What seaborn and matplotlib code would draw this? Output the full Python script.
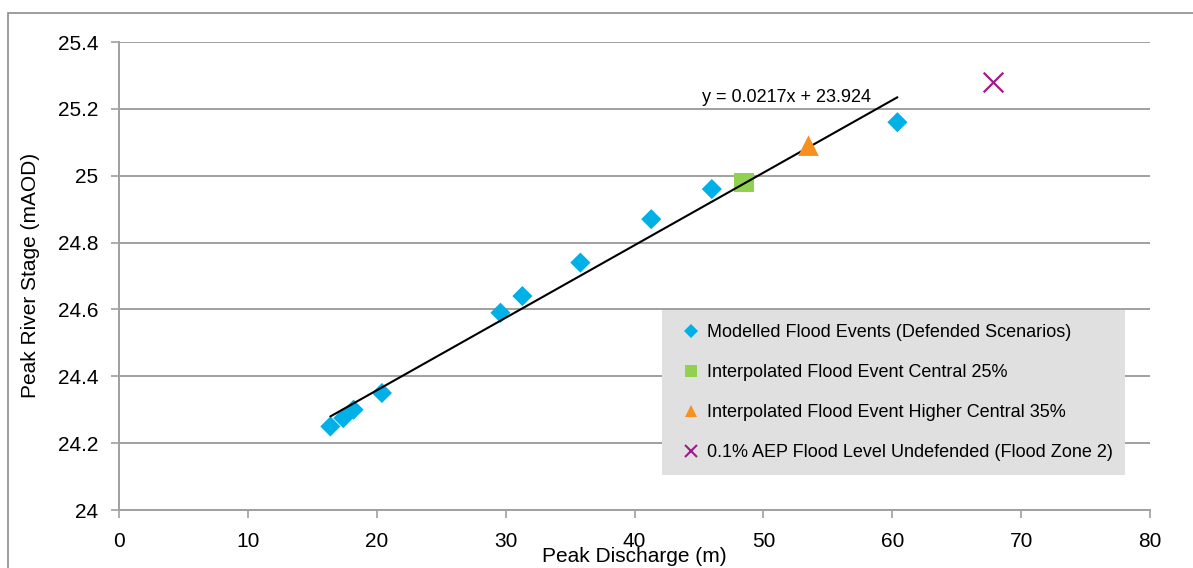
import matplotlib
matplotlib.use("Agg")
import matplotlib.pyplot as plt
from matplotlib.lines import Line2D
from matplotlib.patches import Rectangle
import seaborn as sns
import pandas as pd
import numpy as np

# Modelled flood events (defended scenarios)
modelled_q = [16.4, 17.4, 18.2, 20.4, 29.6, 31.3, 35.8, 41.3, 46.0, 60.4]
modelled_h = [24.25, 24.275, 24.30, 24.35, 24.59, 24.64, 24.74, 24.87, 24.96, 25.16]

# Interpolated events and undefended flood level
central25_q, central25_h = [48.5], [24.98]
higher35_q, higher35_h = [53.5], [25.09]
undefended_q, undefended_h = [67.8], [25.28]

# Linear trend fitted to the modelled events
trend_slope, trend_intercept = 0.0217, 23.924

x_ticks = [0, 10, 20, 30, 40, 50, 60, 70, 80]
y_ticks = [24.0, 24.2, 24.4, 24.6, 24.8, 25.0, 25.2, 25.4]
y_tick_labels = ["24", "24.2", "24.4", "24.6", "24.8", "25", "25.2", "25.4"]

labels = [
    "Modelled Flood Events (Defended Scenarios)",
    "Interpolated Flood Event Central 25%",
    "Interpolated Flood Event Higher Central 35%",
    "0.1% AEP Flood Level Undefended (Flood Zone 2)",
]

sns.set_theme(style="white")
plt.rcParams["font.family"] = ["Liberation Sans", "DejaVu Sans"]

C_BLUE = "#00B0E6"
C_GREEN = "#92D050"
C_ORANGE = "#F7901E"
C_PURPLE = "#A0198C"
GRID = "#A0A0A0"

W, H = 1193, 568
fig = plt.figure(figsize=(W / 100, H / 100), dpi=100)
ax = fig.add_axes([119 / W, 1 - 510 / H, 1031 / W, 468 / H])

# chart-area border
fig.patches.append(Rectangle((8 / W, -0.1), 1.2, 1.1 - 13 / H,
                             transform=fig.transFigure, fill=False,
                             edgecolor="#8C8C8C", linewidth=1.2, zorder=0))

ax.set_xlim(0, 80)
ax.set_ylim(24.0, 25.4)
ax.set_yticks(y_ticks)
ax.set_yticklabels(y_tick_labels)
ax.set_xticks(x_ticks)
ax.grid(axis="y", color=GRID, linewidth=1.4)
ax.set_axisbelow(True)
for side in ["top", "right"]:
    ax.spines[side].set_visible(False)
for side in ["left", "bottom"]:
    ax.spines[side].set_color(GRID)
    ax.spines[side].set_linewidth(1.4)
ax.tick_params(axis="both", which="major", direction="out", length=6, width=1.2,
               color=GRID, labelsize=15, labelcolor="black",
               left=True, bottom=True)
ax.tick_params(axis="x", pad=10)
ax.tick_params(axis="y", pad=9)

# trend line over the range of modelled events
tx = np.array([min(modelled_q), max(modelled_q)])
ax.plot(tx, trend_slope * tx + trend_intercept, color="black", linewidth=1.5, zorder=3)
fig.text(787 / W, 1 - 97 / H, f"y = {trend_slope}x + {trend_intercept}",
         fontsize=13, ha="center", va="center", color="black")

df_m = pd.DataFrame({"q": modelled_q, "h": modelled_h})
sns.scatterplot(data=df_m, x="q", y="h", marker="D", s=105, color=C_BLUE,
                edgecolor="none", linewidth=0, ax=ax, zorder=2)
sns.scatterplot(x=central25_q, y=central25_h, marker="s", s=190, color=C_GREEN,
                edgecolor="none", linewidth=0, ax=ax, zorder=2)
sns.scatterplot(x=higher35_q, y=higher35_h, marker="^", s=220, color=C_ORANGE,
                edgecolor="none", linewidth=0, ax=ax, zorder=4)
sns.scatterplot(x=undefended_q, y=undefended_h, marker="x", s=200, color=C_PURPLE,
                linewidth=1.6, ax=ax, zorder=4)

ax.set_xlabel("Peak Discharge (m)", fontsize=15, color="black")
ax.set_ylabel("Peak River Stage (mAOD)", fontsize=15, color="black")
ax.xaxis.set_label_coords(0.5, -0.079)
ax.yaxis.set_label_coords(-0.077, 0.502)

handles = [
    Line2D([], [], linestyle="none", marker="D", markersize=7, color=C_BLUE, markeredgewidth=0),
    Line2D([], [], linestyle="none", marker="s", markersize=8, color=C_GREEN, markeredgewidth=0),
    Line2D([], [], linestyle="none", marker="^", markersize=9, color=C_ORANGE, markeredgewidth=0),
    Line2D([], [], linestyle="none", marker="x", markersize=8, color=C_PURPLE, markeredgewidth=1.5),
]
leg = ax.legend(handles, labels, loc="lower left",
                bbox_to_anchor=(0.527, 0.075, 0.449, 0.348), mode="expand",
                fontsize=13, frameon=True, fancybox=False, facecolor="#E0E0E0",
                edgecolor="none", framealpha=1, handlelength=1.7,
                handletextpad=0.05, labelspacing=1.28, borderpad=0.75,
                borderaxespad=0)
for t in leg.get_texts():
    t.set_color("black")

fig.savefig("out.png", dpi=100)
